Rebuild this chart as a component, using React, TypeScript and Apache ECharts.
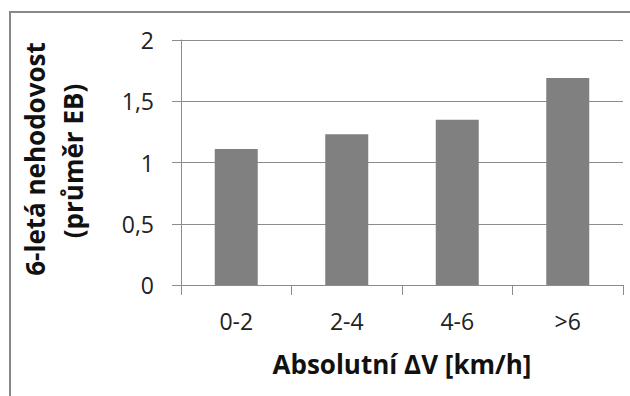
import React, { useEffect, useRef } from "react";
import * as echarts from "echarts";

// Speed-difference classes and their mean 6-year accident rate (EB estimate)
const categories = ["0-2", "2-4", "4-6", ">6"];
const accidentRate = [1.11, 1.23, 1.35, 1.69];
const yTicks = [0, 0.5, 1, 1.5, 2];

const FONT = "'Open Sans', 'Noto Sans', sans-serif";
const GRID_COLOR = "#8c8c8c";

export default function App() {
  const ref = useRef<HTMLDivElement>(null);

  useEffect(() => {
    document.body.style.margin = "0";
    if (!ref.current) return;
    const chart = echarts.init(ref.current, undefined, { renderer: "svg" });
    chart.setOption({
      animation: false,
      backgroundColor: "#ffffff",
      grid: { left: 181, right: 7, top: 40, bottom: 111, containLabel: false },
      xAxis: {
        type: "category",
        data: categories,
        name: "Absolutní ΔV [km/h]",
        nameLocation: "middle",
        nameGap: 66,
        nameTextStyle: { fontFamily: FONT, fontSize: 26, fontWeight: "bold", color: "#111" },
        axisLine: { lineStyle: { color: GRID_COLOR, width: 1 } },
        axisTick: { show: true, length: 10, inside: false, lineStyle: { color: GRID_COLOR } },
        axisLabel: { fontFamily: FONT, fontSize: 23, color: "#222", margin: 24 },
      },
      yAxis: {
        type: "value",
        min: yTicks[0],
        max: yTicks[yTicks.length - 1],
        interval: 0.5,
        axisLine: { show: true, lineStyle: { color: GRID_COLOR, width: 1 } },
        axisTick: { show: true, length: 9, inside: false, lineStyle: { color: GRID_COLOR } },
        splitLine: { show: true, lineStyle: { color: GRID_COLOR, width: 1 } },
        axisLabel: {
          fontFamily: FONT,
          fontSize: 23,
          color: "#222",
          margin: 27,
          formatter: (v: number) => String(v).replace(".", ","),
        },
      },
      series: [
        {
          type: "bar",
          data: accidentRate,
          barWidth: 43,
          itemStyle: { color: "#808080" },
        },
      ],
      graphic: [
        {
          type: "rect",
          shape: { x: 10, y: 12, width: 640, height: 420 },
          style: { fill: "none", stroke: "#888888", lineWidth: 2 },
          silent: true,
        },
        {
          type: "text",
          x: 35,
          y: 159,
          rotation: Math.PI / 2,
          style: {
            text: "6-letá nehodovost",
            font: `bold 26px ${FONT}`,
            fill: "#111",
            align: "center",
            verticalAlign: "middle",
          },
        },
        {
          type: "text",
          x: 73,
          y: 161,
          rotation: Math.PI / 2,
          style: {
            text: "(průměr EB)",
            font: `bold 26px ${FONT}`,
            fill: "#111",
            align: "center",
            verticalAlign: "middle",
          },
        },
      ],
    });
    return () => chart.dispose();
  }, []);

  return <div ref={ref} style={{ width: 630, height: 396 }} />;
}
